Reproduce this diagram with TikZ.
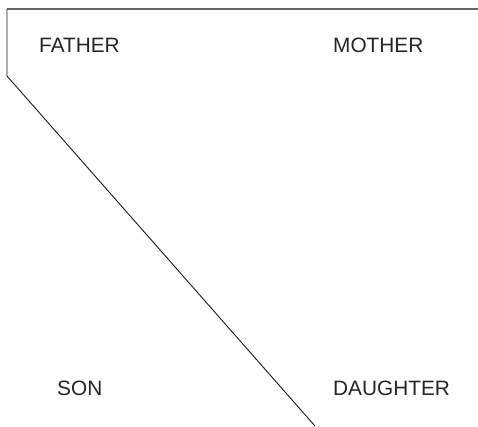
\documentclass[tikz,border=0pt]{standalone}
\usepackage{fontspec}
\setmainfont{Liberation Sans}
\usepackage{xcolor}
\usepackage{tikz}

\begin{document}
\begin{tikzpicture}[
		x=1pt, y=-1pt,
		font=\fontsize{20.8}{25}\selectfont,
		member/.style={anchor=base west, inner sep=0pt, text=black!85},
		edge/.style={line width=1.2pt, black!60},
		cut/.style={line width=0.9pt, black!90}
		]
		\useasboundingbox (0,0) rectangle (478,426);
		
		% Family members
		\node[member] (father) at (39,52) {FATHER};
		\node[member] (mother) at (333,52) {MOTHER};
		\node[member] (son) at (57,395) {SON};
		\node[member] (daughter) at (333,395) {DAUGHTER};
		
		% Corner points of the boundary
		\coordinate (topleft) at (7,9);
		\coordinate (topright) at (478,9);
		\coordinate (bend) at (7,76);
		\coordinate (foot) at (315,426);
		
		% Boundary lines
		\draw[edge] (topleft) -- (topright);
		\draw[cut] (topleft) -- (bend) -- (foot);
	\end{tikzpicture}
\end{document}
